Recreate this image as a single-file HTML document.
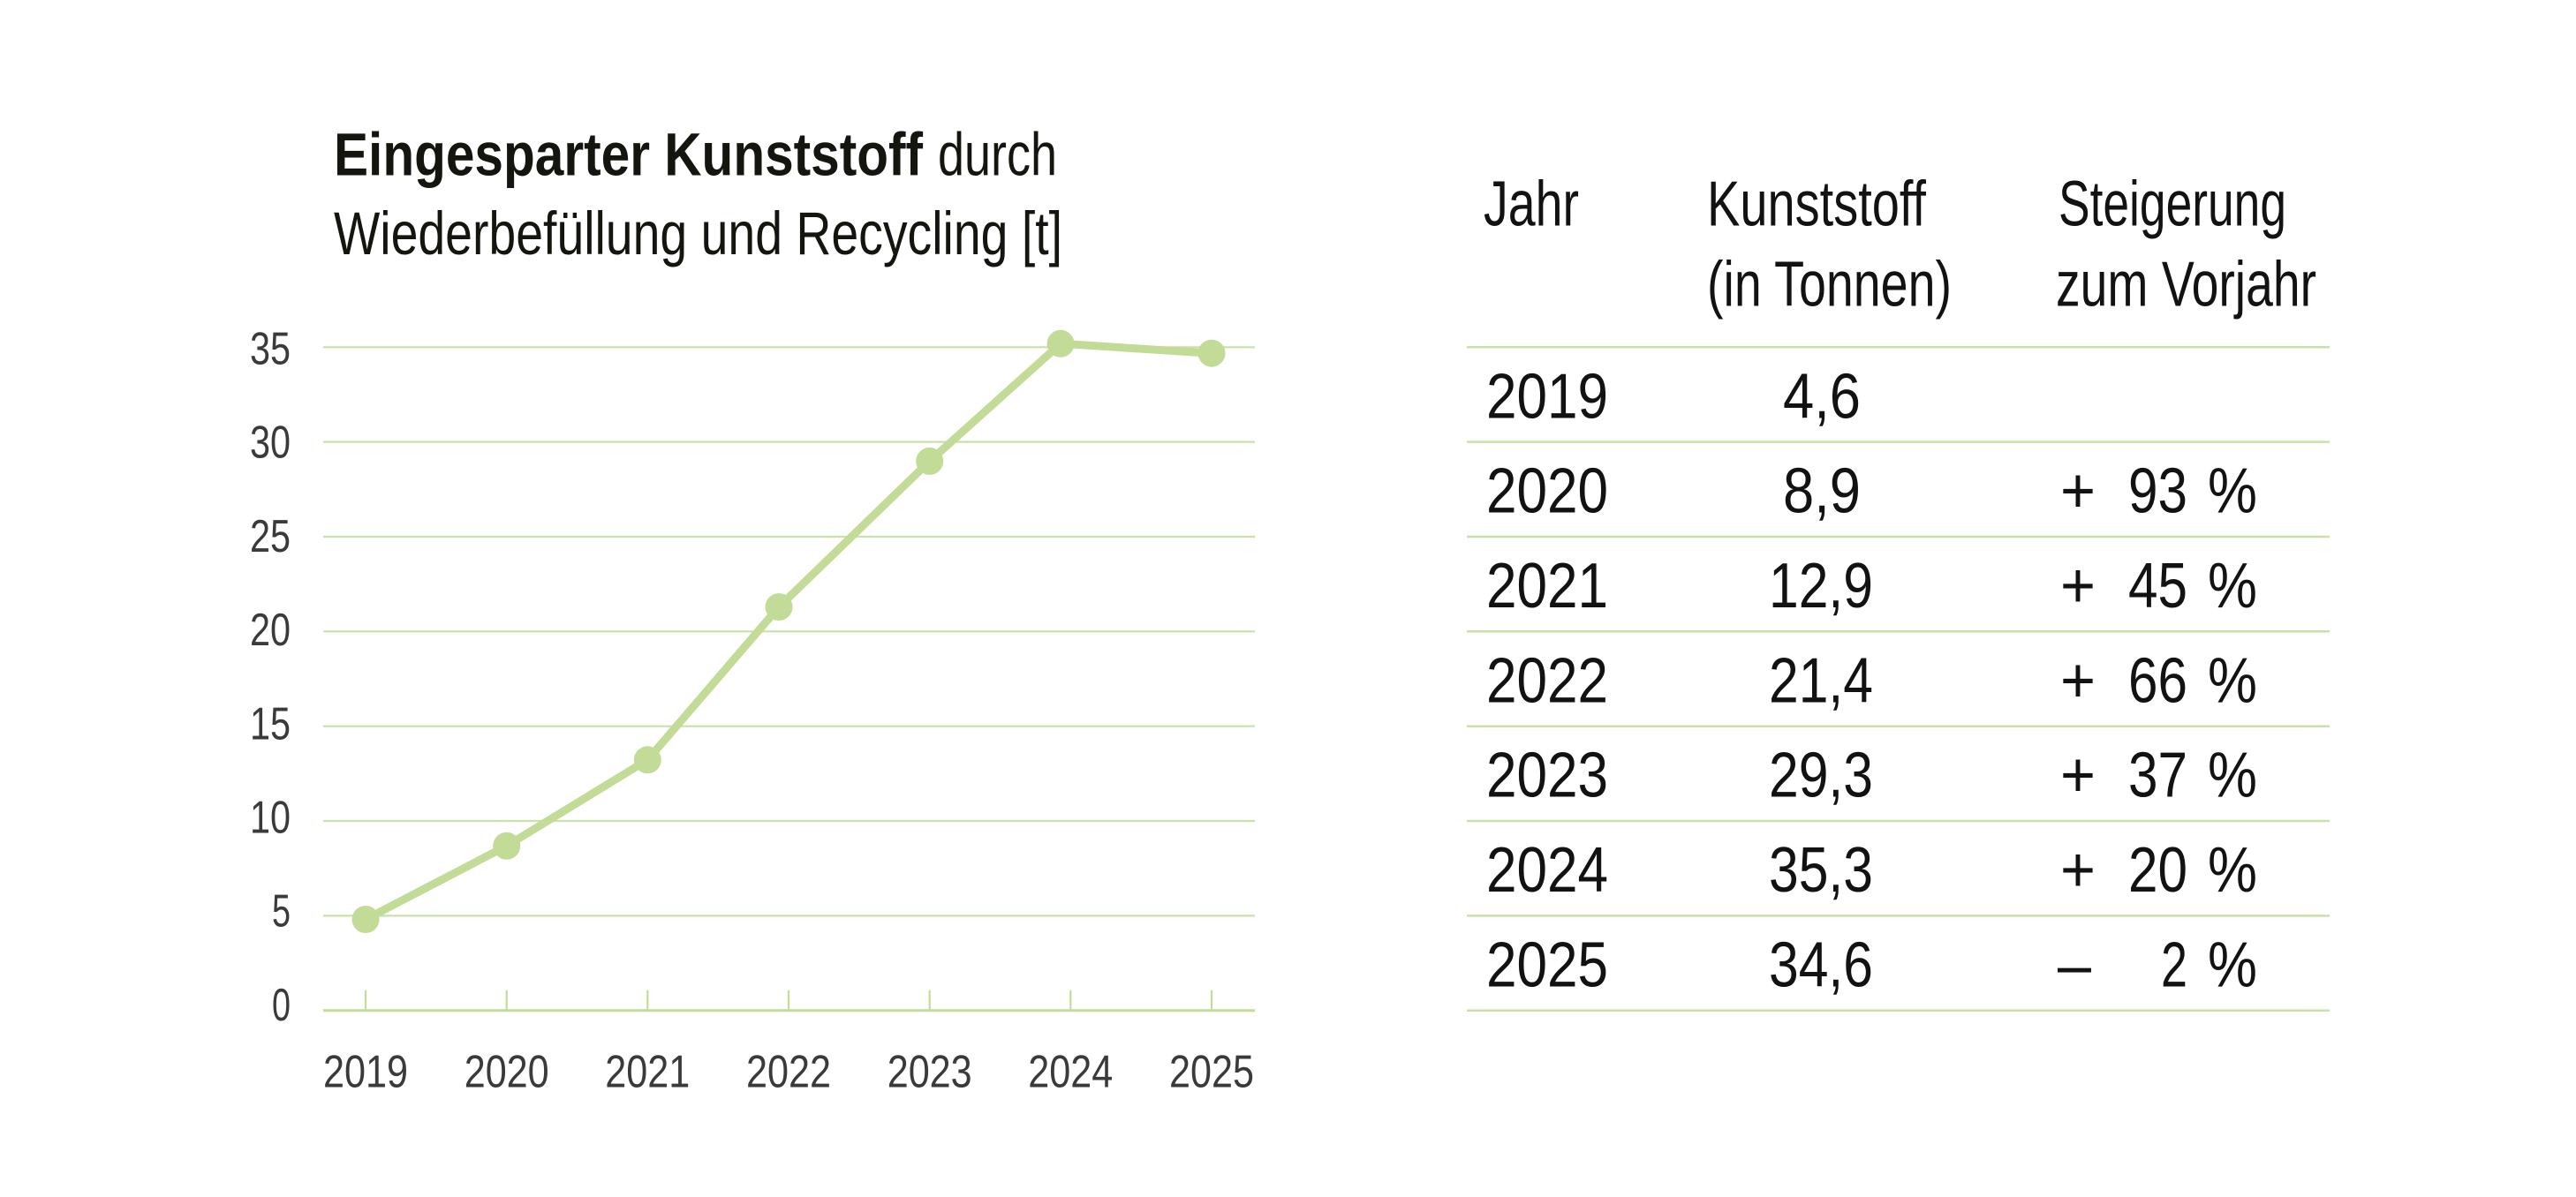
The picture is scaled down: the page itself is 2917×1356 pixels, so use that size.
<!DOCTYPE html>
<html>
<head>
<meta charset="utf-8">
<style>
  html,body{margin:0;padding:0;background:#fff;}
  body{width:2917px;height:1356px;overflow:hidden;}
  svg{display:block;}
  text{font-family:"Liberation Sans Narrow","Liberation Sans",sans-serif;}
</style>
</head>
<body>
<svg width="2917" height="1356" viewBox="0 0 2917 1356" xmlns="http://www.w3.org/2000/svg">
  <rect x="0" y="0" width="2917" height="1356" fill="#ffffff"/>

  <!-- Title -->
  <text x="378" y="198.3" font-size="69" font-weight="bold" fill="#15150f" textLength="667" lengthAdjust="spacingAndGlyphs">Eingesparter Kunststoff</text>
  <text x="1062" y="198.3" font-size="69" fill="#15150f" textLength="135" lengthAdjust="spacingAndGlyphs">durch</text>
  <text x="378" y="288" font-size="69" fill="#15150f" textLength="825" lengthAdjust="spacingAndGlyphs">Wiederbefüllung und Recycling [t]</text>

  <!-- Gridlines -->
  <g stroke="#c9e0aa" stroke-width="2.2">
    <line x1="366" y1="393.3" x2="1421" y2="393.3"/>
    <line x1="366" y1="500.6" x2="1421" y2="500.6"/>
    <line x1="366" y1="608" x2="1421" y2="608"/>
    <line x1="366" y1="715.3" x2="1421" y2="715.3"/>
    <line x1="366" y1="822.7" x2="1421" y2="822.7"/>
    <line x1="366" y1="930" x2="1421" y2="930"/>
    <line x1="366" y1="1037.4" x2="1421" y2="1037.4"/>
  </g>
  <!-- Axis line and ticks -->
  <g stroke="#c3dc98">
    <line x1="366" y1="1144.7" x2="1421" y2="1144.7" stroke-width="3"/>
    <line x1="414" y1="1121.7" x2="414" y2="1144.7" stroke-width="2.2"/>
    <line x1="573.7" y1="1121.7" x2="573.7" y2="1144.7" stroke-width="2.2"/>
    <line x1="733.3" y1="1121.7" x2="733.3" y2="1144.7" stroke-width="2.2"/>
    <line x1="893" y1="1121.7" x2="893" y2="1144.7" stroke-width="2.2"/>
    <line x1="1052.7" y1="1121.7" x2="1052.7" y2="1144.7" stroke-width="2.2"/>
    <line x1="1212.3" y1="1121.7" x2="1212.3" y2="1144.7" stroke-width="2.2"/>
    <line x1="1372" y1="1121.7" x2="1372" y2="1144.7" stroke-width="2.2"/>
  </g>

  <!-- Y labels -->
  <g font-size="52" fill="#3a3a3a" text-anchor="start">
    <text x="283" y="412.3" textLength="46" lengthAdjust="spacingAndGlyphs">35</text>
    <text x="283" y="518.5" textLength="46" lengthAdjust="spacingAndGlyphs">30</text>
    <text x="283" y="624.8" textLength="46" lengthAdjust="spacingAndGlyphs">25</text>
    <text x="283" y="731" textLength="46" lengthAdjust="spacingAndGlyphs">20</text>
    <text x="283" y="837.3" textLength="46" lengthAdjust="spacingAndGlyphs">15</text>
    <text x="283" y="943.5" textLength="46" lengthAdjust="spacingAndGlyphs">10</text>
    <text x="308" y="1049.7" textLength="21" lengthAdjust="spacingAndGlyphs">5</text>
    <text x="308" y="1156" textLength="21" lengthAdjust="spacingAndGlyphs">0</text>
  </g>

  <!-- X labels -->
  <g font-size="52" fill="#3a3a3a">
    <text x="366" y="1231.7" textLength="96" lengthAdjust="spacingAndGlyphs">2019</text>
    <text x="525.7" y="1231.7" textLength="96" lengthAdjust="spacingAndGlyphs">2020</text>
    <text x="685.3" y="1231.7" textLength="96" lengthAdjust="spacingAndGlyphs">2021</text>
    <text x="845" y="1231.7" textLength="96" lengthAdjust="spacingAndGlyphs">2022</text>
    <text x="1004.7" y="1231.7" textLength="96" lengthAdjust="spacingAndGlyphs">2023</text>
    <text x="1164.3" y="1231.7" textLength="96" lengthAdjust="spacingAndGlyphs">2024</text>
    <text x="1324" y="1231.7" textLength="96" lengthAdjust="spacingAndGlyphs">2025</text>
  </g>

  <!-- Series -->
  <polyline points="414,1041.5 573.7,958.3 733.3,860.8 882,687.6 1052.7,522.4 1201,389.3 1372,400.2"
            fill="none" stroke="#c2db96" stroke-width="9" stroke-linejoin="round" stroke-linecap="round"/>
  <g fill="#c2db96">
    <circle cx="414" cy="1041.5" r="15.5"/>
    <circle cx="573.7" cy="958.3" r="15.5"/>
    <circle cx="733.3" cy="860.8" r="15.5"/>
    <circle cx="882" cy="687.6" r="15.5"/>
    <circle cx="1052.7" cy="522.4" r="15.5"/>
    <circle cx="1201" cy="389.3" r="15.5"/>
    <circle cx="1372" cy="400.2" r="15.5"/>
  </g>

  <!-- Table rules -->
  <g stroke="#c9e0aa" stroke-width="2.5">
    <line x1="1661" y1="393.3" x2="2638" y2="393.3"/>
    <line x1="1661" y1="500.6" x2="2638" y2="500.6"/>
    <line x1="1661" y1="608" x2="2638" y2="608"/>
    <line x1="1661" y1="715.3" x2="2638" y2="715.3"/>
    <line x1="1661" y1="822.7" x2="2638" y2="822.7"/>
    <line x1="1661" y1="930" x2="2638" y2="930"/>
    <line x1="1661" y1="1037.4" x2="2638" y2="1037.4"/>
    <line x1="1661" y1="1144.7" x2="2638" y2="1144.7"/>
  </g>

  <!-- Table header -->
  <g font-size="72" fill="#121212">
    <text x="1680" y="255.7" textLength="108" lengthAdjust="spacingAndGlyphs">Jahr</text>
    <text x="1933" y="255.7" textLength="248" lengthAdjust="spacingAndGlyphs">Kunststoff</text>
    <text x="1933" y="346.7" textLength="277" lengthAdjust="spacingAndGlyphs">(in Tonnen)</text>
    <text x="2331" y="255.7" textLength="258" lengthAdjust="spacingAndGlyphs">Steigerung</text>
    <text x="2328" y="346.7" textLength="295" lengthAdjust="spacingAndGlyphs">zum Vorjahr</text>
  </g>

  <!-- Table rows -->
  <g font-size="72" fill="#121212">
    <!-- years -->
    <text x="1683" y="473.3" textLength="138" lengthAdjust="spacingAndGlyphs">2019</text>
    <text x="1683" y="580.6" textLength="138" lengthAdjust="spacingAndGlyphs">2020</text>
    <text x="1683" y="688" textLength="138" lengthAdjust="spacingAndGlyphs">2021</text>
    <text x="1683" y="795.3" textLength="138" lengthAdjust="spacingAndGlyphs">2022</text>
    <text x="1683" y="902.7" textLength="138" lengthAdjust="spacingAndGlyphs">2023</text>
    <text x="1683" y="1010" textLength="138" lengthAdjust="spacingAndGlyphs">2024</text>
    <text x="1683" y="1117.4" textLength="138" lengthAdjust="spacingAndGlyphs">2025</text>

    <!-- values -->
    <text x="2019" y="473.3" textLength="88" lengthAdjust="spacingAndGlyphs">4,6</text>
    <text x="2019" y="580.6" textLength="88" lengthAdjust="spacingAndGlyphs">8,9</text>
    <text x="2003" y="688" textLength="118" lengthAdjust="spacingAndGlyphs">12,9</text>
    <text x="2003" y="795.3" textLength="118" lengthAdjust="spacingAndGlyphs">21,4</text>
    <text x="2003" y="902.7" textLength="118" lengthAdjust="spacingAndGlyphs">29,3</text>
    <text x="2003" y="1010" textLength="118" lengthAdjust="spacingAndGlyphs">35,3</text>
    <text x="2003" y="1117.4" textLength="118" lengthAdjust="spacingAndGlyphs">34,6</text>

    <!-- signs -->
    <text x="2333" y="580.6" textLength="40" lengthAdjust="spacingAndGlyphs">+</text>
    <text x="2333" y="688" textLength="40" lengthAdjust="spacingAndGlyphs">+</text>
    <text x="2333" y="795.3" textLength="40" lengthAdjust="spacingAndGlyphs">+</text>
    <text x="2333" y="902.7" textLength="40" lengthAdjust="spacingAndGlyphs">+</text>
    <text x="2333" y="1010" textLength="40" lengthAdjust="spacingAndGlyphs">+</text>
    <text x="2330" y="1117.4" textLength="38" lengthAdjust="spacingAndGlyphs">–</text>

    <!-- percentages -->
    <text x="2410" y="580.6" textLength="67" lengthAdjust="spacingAndGlyphs">93</text>
    <text x="2410" y="688" textLength="67" lengthAdjust="spacingAndGlyphs">45</text>
    <text x="2410" y="795.3" textLength="67" lengthAdjust="spacingAndGlyphs">66</text>
    <text x="2410" y="902.7" textLength="67" lengthAdjust="spacingAndGlyphs">37</text>
    <text x="2410" y="1010" textLength="67" lengthAdjust="spacingAndGlyphs">20</text>
    <text x="2447" y="1117.4" textLength="30" lengthAdjust="spacingAndGlyphs">2</text>

    <text x="2500" y="580.6" textLength="56" lengthAdjust="spacingAndGlyphs">%</text>
    <text x="2500" y="688" textLength="56" lengthAdjust="spacingAndGlyphs">%</text>
    <text x="2500" y="795.3" textLength="56" lengthAdjust="spacingAndGlyphs">%</text>
    <text x="2500" y="902.7" textLength="56" lengthAdjust="spacingAndGlyphs">%</text>
    <text x="2500" y="1010" textLength="56" lengthAdjust="spacingAndGlyphs">%</text>
    <text x="2500" y="1117.4" textLength="56" lengthAdjust="spacingAndGlyphs">%</text>
  </g>
</svg>
</body>
</html>
